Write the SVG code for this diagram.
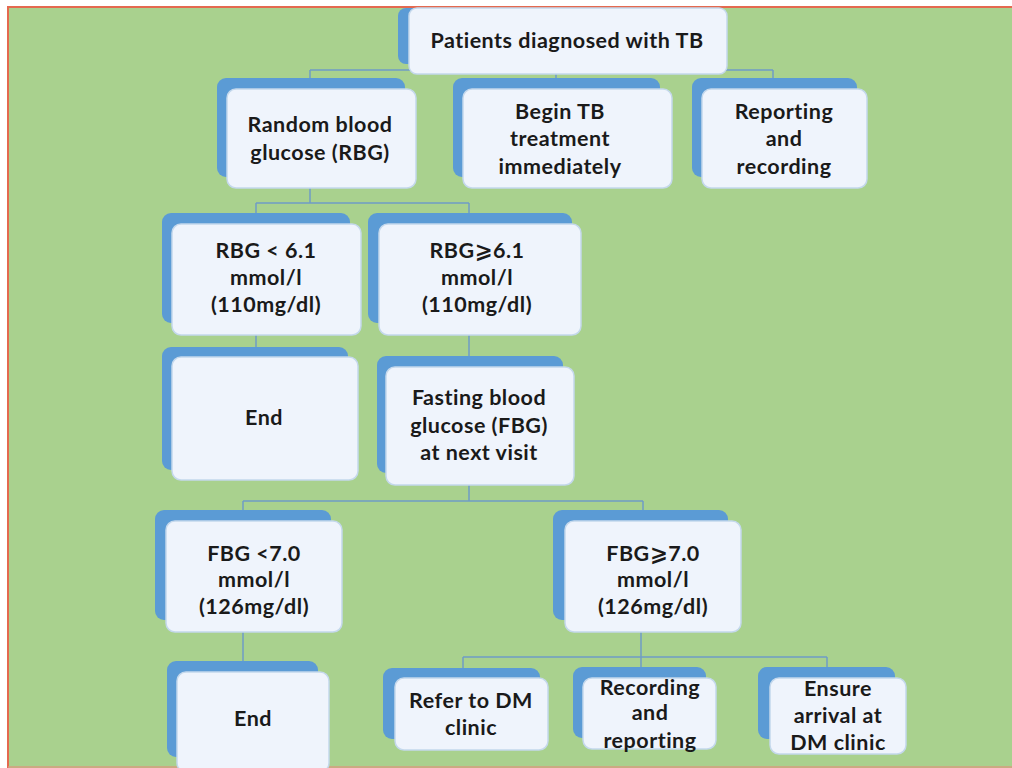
<svg xmlns="http://www.w3.org/2000/svg" width="1012" height="768" viewBox="0 0 1012 768">
<style>
.back{fill:#5b9bd5;}
.front{fill:#eff4fc;stroke:#c4d8ec;stroke-width:1.5;}
.t{font-family:Lato,"DejaVu Sans",sans-serif;font-weight:bold;font-size:21.5px;letter-spacing:0.5px;fill:#1a1a1a;text-anchor:middle;}
.c{fill:none;stroke:#6f9cc6;stroke-width:1.5;}
</style>
<rect x="0" y="0" width="1012" height="768" fill="#ffffff"/>
<rect x="8" y="7" width="1004" height="761" fill="#a9d18e"/>
<path d="M8 768 V7 H1012" fill="none" stroke="#e4694f" stroke-width="2"/>
<line x1="8" y1="767" x2="1012" y2="767" stroke="#d79c7e" stroke-width="1.5"/>
<g id="connectors" class="c">
<path d="M310 70 H773 M310 70 V78 M556 70 V78 M773 70 V78"/>
<path d="M310 188 V203 M256 203 H469 M256 203 V213 M469 203 V213"/>
<path d="M256 335 V347 M469 335 V356"/>
<path d="M469 485 V501 M243 501 H643 M243 501 V510 M643 501 V510"/>
<path d="M243 632 V661 M641 632 V657 M463 657 H827 M463 657 V668 M641 657 V667 M827 657 V667"/>
</g>
<g id="root">
<rect class="back" x="398" y="8" width="300" height="56" rx="8"/>
<rect class="front" x="409" y="8" width="318" height="66" rx="8"/>
<text class="t" x="567" y="48">Patients diagnosed with TB</text>
</g>
<g id="rbg">
<rect class="back" x="217" y="78" width="188" height="99" rx="9"/>
<rect class="front" x="227" y="89" width="189" height="99" rx="9"/>
<text class="t" x="320" y="132">Random blood</text>
<text class="t" x="320" y="160">glucose (RBG)</text>
</g>
<g id="begin-tb">
<rect class="back" x="453" y="78" width="207" height="99" rx="9"/>
<rect class="front" x="463" y="89" width="209" height="99" rx="9"/>
<text class="t" x="560" y="119">Begin TB</text>
<text class="t" x="560" y="146">treatment</text>
<text class="t" x="560" y="174">immediately</text>
</g>
<g id="reporting-recording">
<rect class="back" x="692" y="78" width="165" height="99" rx="9"/>
<rect class="front" x="702" y="89" width="165" height="99" rx="9"/>
<text class="t" x="784" y="119">Reporting</text>
<text class="t" x="784" y="146">and</text>
<text class="t" x="784" y="174">recording</text>
</g>
<g id="rbg-low">
<rect class="back" x="162" y="213" width="188" height="110" rx="9"/>
<rect class="front" x="172" y="224" width="189" height="111" rx="9"/>
<text class="t" x="266" y="258">RBG &lt; 6.1</text>
<text class="t" x="266" y="285">mmol/l</text>
<text class="t" x="266" y="312">(110mg/dl)</text>
</g>
<g id="rbg-high">
<rect class="back" x="368" y="213" width="204" height="110" rx="9"/>
<rect class="front" x="379" y="224" width="202" height="111" rx="9"/>
<text class="t" x="477" y="258">RBG⩾6.1</text>
<text class="t" x="477" y="285">mmol/l</text>
<text class="t" x="477" y="312">(110mg/dl)</text>
</g>
<g id="end-1">
<rect class="back" x="162" y="347" width="186" height="123" rx="9"/>
<rect class="front" x="172" y="357" width="186" height="123" rx="9"/>
<text class="t" x="264" y="425">End</text>
</g>
<g id="fbg">
<rect class="back" x="377" y="356" width="186" height="117" rx="9"/>
<rect class="front" x="386" y="367" width="188" height="118" rx="9"/>
<text class="t" x="479" y="405">Fasting blood</text>
<text class="t" x="479" y="433">glucose (FBG)</text>
<text class="t" x="479" y="460">at next visit</text>
</g>
<g id="fbg-low">
<rect class="back" x="155" y="510" width="176" height="110" rx="9"/>
<rect class="front" x="166" y="521" width="176" height="111" rx="9"/>
<text class="t" x="254" y="561">FBG &lt;7.0</text>
<text class="t" x="254" y="587">mmol/l</text>
<text class="t" x="254" y="614">(126mg/dl)</text>
</g>
<g id="fbg-high">
<rect class="back" x="553" y="510" width="175" height="110" rx="9"/>
<rect class="front" x="565" y="521" width="176" height="111" rx="9"/>
<text class="t" x="653" y="561">FBG⩾7.0</text>
<text class="t" x="653" y="587">mmol/l</text>
<text class="t" x="653" y="614">(126mg/dl)</text>
</g>
<g id="end-2">
<rect class="back" x="167" y="661" width="151" height="96" rx="9"/>
<rect class="front" x="177" y="672" width="152" height="100" rx="9"/>
<text class="t" x="253" y="726">End</text>
</g>
<g id="refer-dm">
<rect class="back" x="383" y="668" width="157" height="71" rx="9"/>
<rect class="front" x="395" y="678" width="153" height="72" rx="9"/>
<text class="t" x="471" y="708">Refer to DM</text>
<text class="t" x="471" y="735">clinic</text>
</g>
<g id="recording-reporting">
<rect class="back" x="573" y="667" width="133" height="71" rx="9"/>
<rect class="front" x="583" y="678" width="133" height="71" rx="9"/>
<text class="t" x="650" y="695">Recording</text>
<text class="t" x="650" y="720">and</text>
<text class="t" x="650" y="748">reporting</text>
</g>
<g id="ensure-arrival">
<rect class="back" x="758" y="667" width="137" height="72" rx="9"/>
<rect class="front" x="770" y="678" width="136" height="76" rx="9"/>
<text class="t" x="838" y="696">Ensure</text>
<text class="t" x="838" y="723">arrival at</text>
<text class="t" x="838" y="750">DM clinic</text>
</g>
</svg>
